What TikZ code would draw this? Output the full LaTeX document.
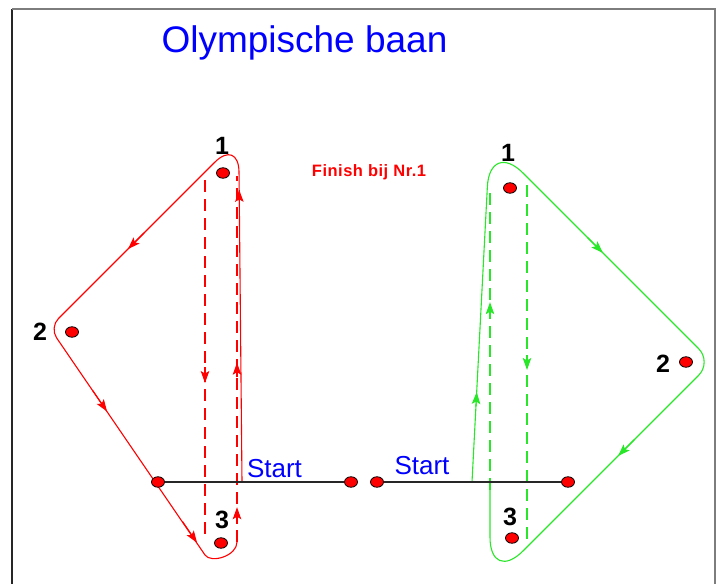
\documentclass[tikz,border=0pt]{standalone}
\usepackage{fontspec}
\setmainfont{Liberation Sans}
\usetikzlibrary{shapes.geometric,arrows.meta,calc}
\definecolor{rline}{RGB}{255,0,0}
\definecolor{gline}{RGB}{40,230,40}
\definecolor{tblue}{RGB}{0,0,255}
\definecolor{framegray}{RGB}{125,125,125}
\newcommand\arrmark[5]{\draw[#1,line width=1.1bp,-{Stealth[length=12bp,width=8.5bp,inset=2.5bp]}] ($(#2)!#4!(#3)$) -- ($(#2)!#5!(#3)$);}
\begin{document}
\begin{tikzpicture}[x=1bp,y=-1bp,
  buoy/.style={ellipse,draw=black,fill=red,line width=0.8bp,minimum width=13bp,minimum height=10.5bp,inner sep=0pt},
  num/.style={font=\bfseries\fontsize{25bp}{28bp}\selectfont,anchor=base,inner sep=0pt},
  starttxt/.style={font=\fontsize{26bp}{30bp}\selectfont,text=tblue,anchor=base,inner sep=0pt},
  rpath/.style={draw=rline,line width=1.1bp},
  gpath/.style={draw=gline,line width=1.1bp},
  dsh/.style={dash pattern=on 12bp off 7bp,line width=1.4bp},
]
\useasboundingbox (0,0) rectangle (723,584);
% frame
\draw[black!85,line width=1.5bp] (12,9) -- (12,584);
\draw[framegray,line width=2bp] (12,9) -- (715,9) -- (715,584);

% red course
\coordinate (RS) at (242,482);
\coordinate (R1c) at (238.7,138.3);
\coordinate (R2c) at (49.5,327.5);
\coordinate (R3c) at (237,601);
\coordinate (RA) at (205,555);
\coordinate (RAc) at (211,563.7);
\coordinate (RBc) at (237,556);
\coordinate (R3t) at (237,542);
\coordinate (RdLa) at (205,180);
\coordinate (RdLb) at (205,540);
\coordinate (RdRb) at (237,176);
\draw[rpath] (RS) [rounded corners=34bp] -- (R1c) [rounded corners=12.5bp] -- (R2c) [sharp corners] -- (RA) .. controls (RAc) and (RBc) .. (R3t);
\draw[rpath,dsh] (R3t) -- (RdRb);
\draw[rpath,dsh] (RdLa) -- (RdLb);
\arrmark{rline}{RS}{R1c}{0.80}{0.85}
\arrmark{rline}{R1c}{R2c}{0.50}{0.585}
\arrmark{rline}{R2c}{R3c}{0.23}{0.307}
\arrmark{rline}{R2c}{R3c}{0.71}{0.787}
\arrmark{rline}{R3t}{RdRb}{0.05}{0.095}
\arrmark{rline}{R3t}{RdRb}{0.45}{0.49}
\arrmark{rline}{RdLa}{RdLb}{0.52}{0.564}

% green course
\coordinate (GS) at (472,482);
\coordinate (G1c) at (489.8,139.8);
\coordinate (G2c) at (712,362);
\coordinate (G3c) at (490,584);
\coordinate (G3t) at (490,490);
\coordinate (GdLb) at (490,187);
\coordinate (GdRa) at (527,185);
\coordinate (GdRb) at (527,540);
\draw[gpath] (GS) [rounded corners=47bp] -- (G1c) [rounded corners=19bp] -- (G2c) [rounded corners=47bp] -- (G3c) -- (G3t);
\draw[gpath,dsh] (G3t) -- (GdLb);
\draw[gpath,dsh] (GdRa) -- (GdRb);
\arrmark{gline}{GS}{G1c}{0.22}{0.263}
\arrmark{gline}{G1c}{G2c}{0.44}{0.509}
\arrmark{gline}{G2c}{G3c}{0.35}{0.423}
\arrmark{gline}{G3t}{GdLb}{0.57}{0.62}
\arrmark{gline}{GdRa}{GdRb}{0.48}{0.521}

% buoys
\node[buoy] (rb1) at (223,173) {};
\node[buoy] (rb2) at (72,332) {};
\node[buoy] (rb3) at (221,543) {};
\node[buoy] (gb1) at (510,188) {};
\node[buoy] (gb2) at (686,362) {};
\node[buoy] (gb3) at (512,538) {};
\node[buoy] (rs1) at (158,482) {};
\node[buoy] (rs2) at (351,482) {};
\node[buoy] (gs1) at (377,482) {};
\node[buoy] (gs2) at (568,482) {};
\draw[black!85,line width=2bp] (rs1) -- (rs2);
\draw[black!85,line width=2bp] (gs1) -- (gs2);

% texts
\node[anchor=base,inner sep=0pt,text=tblue,font=\fontsize{37bp}{41bp}\selectfont] (title) at (304.5,53) {Olympische baan};
\node[anchor=base,inner sep=0pt,text=red,font=\bfseries\fontsize{16.5bp}{18bp}\selectfont\addfontfeature{LetterSpace=3}] (finish) at (369,177) {Finish bij Nr.1};
\node[num] (r1) at (222,155) {1};
\node[num] (r2) at (40,340) {2};
\node[num] (r3) at (222,528) {3};
\node[num] (g1) at (508,162) {1};
\node[num] (g2) at (663,372) {2};
\node[num] (g3) at (510,525) {3};
\node[starttxt] (st1) at (274.5,477) {Start};
\node[starttxt] (st2) at (422,474) {Start};
\end{tikzpicture}
\end{document}
